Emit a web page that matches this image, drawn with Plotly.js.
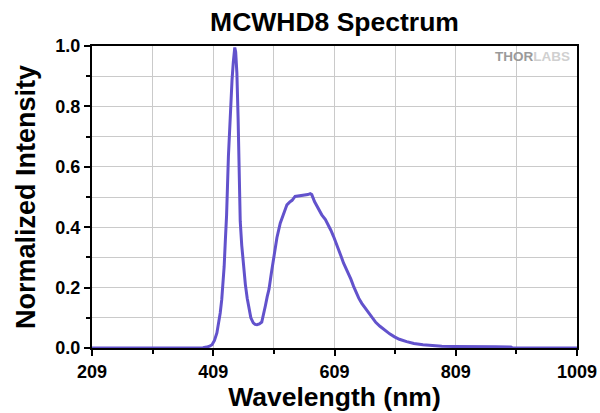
<!DOCTYPE html>
<html>
<head>
<meta charset="utf-8">
<script src="https://cdn.plot.ly/plotly-3.0.1.min.js"></script>
<style>html,body{margin:0;padding:0;background:#fff;}#chart{width:600px;height:413px;}</style>
</head>
<body>
<div id="chart"></div>
<script>
// Data
var wavelength = [209, 300, 380, 392, 398, 403, 407, 411, 415, 418, 420.5, 423, 425, 427, 429, 431, 434, 437, 440, 442, 444.5, 446, 448, 450, 451.5, 453.5, 456, 459, 462, 465, 468, 471, 475, 478, 481, 485, 489, 492, 495, 498, 501, 505, 509, 514, 519.5, 525, 530.5, 535, 539, 544, 548, 552.5, 557, 561, 565, 569, 571.5, 576, 580, 584, 588, 594, 599, 603, 607.5, 612, 616, 620, 624, 628, 632, 636, 640.5, 645, 649, 654, 660, 665, 671, 677, 684, 692, 700, 708, 716, 728, 740, 755, 770, 786, 805, 825, 850, 875, 900, 903, 950, 1009];
var intensity  = [0, 0, 0, 0.001, 0.003, 0.006, 0.011, 0.025, 0.05, 0.085, 0.116, 0.16, 0.204, 0.27, 0.358, 0.44, 0.634, 0.78, 0.888, 0.945, 0.995, 0.98, 0.91, 0.76, 0.62, 0.42, 0.34, 0.27, 0.21, 0.165, 0.128, 0.1, 0.083, 0.078, 0.077, 0.08, 0.086, 0.11, 0.14, 0.17, 0.195, 0.25, 0.3, 0.365, 0.413, 0.441, 0.474, 0.483, 0.489, 0.502, 0.503, 0.505, 0.504, 0.507, 0.508, 0.511, 0.508, 0.485, 0.469, 0.455, 0.441, 0.425, 0.408, 0.39, 0.369, 0.347, 0.325, 0.303, 0.281, 0.264, 0.248, 0.228, 0.204, 0.183, 0.165, 0.148, 0.132, 0.115, 0.099, 0.085, 0.072, 0.058, 0.047, 0.037, 0.029, 0.021, 0.015, 0.011, 0.008, 0.006, 0.005, 0.004, 0.004, 0.004, 0.003, 0, 0, 0];

var xMajorTicks = [209, 409, 609, 809, 1009];
var xMajorLabels = ['209', '409', '609', '809', '1009'];
var xMinorTicks = [309, 509, 709, 909];
var yMajorTicks = [0, 0.2, 0.4, 0.6, 0.8, 1.0];
var yMajorLabels = ['0.0', '0.2', '0.4', '0.6', '0.8', '1.0'];
var yMinorTicks = [0.1, 0.3, 0.5, 0.7, 0.9];

var FONT = 'Liberation Sans, Arial, sans-serif';
var gridCol = '#cacaca';

var trace = {
  x: wavelength,
  y: intensity,
  type: 'scatter',
  mode: 'lines',
  line: {color: '#6252CC', width: 3},
  hoverinfo: 'skip'
};

var layout = {
  width: 600,
  height: 413,
  margin: {l: 92, r: 23, t: 46, b: 65},
  paper_bgcolor: '#ffffff',
  plot_bgcolor: '#ffffff',
  showlegend: false,
  title: {
    text: '<b>MCWHD8 Spectrum</b>',
    font: {family: FONT, size: 26.5, color: '#000'},
    x: 0.5, xanchor: 'center', xref: 'paper',
    y: 1 - 22 / 413, yanchor: 'middle', yref: 'container'
  },
  xaxis: {
    range: [209, 1009],
    tickmode: 'array',
    tickvals: xMajorTicks,
    ticktext: xMajorLabels,
    ticks: 'outside', ticklen: 6, tickwidth: 2, tickcolor: '#000',
    showline: true, linecolor: '#000', linewidth: 2, mirror: true,
    showgrid: true, gridcolor: gridCol, gridwidth: 1,
    zeroline: false,
    tickfont: {family: FONT, size: 18, color: '#000', weight: 'bold'},
    minor: {tickmode: 'array', tickvals: xMinorTicks, ticks: 'outside', ticklen: 4, tickwidth: 2, tickcolor: '#000', showgrid: true, gridcolor: gridCol, gridwidth: 1},
    title: {text: '<b>Wavelength (nm)</b>', font: {family: FONT, size: 26.5, color: '#000'}, standoff: 4}
  },
  yaxis: {
    range: [0, 1],
    tickmode: 'array',
    tickvals: yMajorTicks,
    ticktext: yMajorLabels,
    ticks: 'outside', ticklen: 6, tickwidth: 2, tickcolor: '#000',
    showline: true, linecolor: '#000', linewidth: 2, mirror: true,
    showgrid: true, gridcolor: gridCol, gridwidth: 1,
    zeroline: false,
    tickfont: {family: FONT, size: 18, color: '#000', weight: 'bold'},
    minor: {tickmode: 'array', tickvals: yMinorTicks, ticks: 'outside', ticklen: 4, tickwidth: 2, tickcolor: '#000', showgrid: true, gridcolor: gridCol, gridwidth: 1},
    title: {text: '<b>Normalized Intensity</b>', font: {family: FONT, size: 27, color: '#000'}, standoff: 12}
  },
  annotations: [{
    text: '<b><span style="color:#9a9a9a">THOR</span><span style="color:#d0d0d0">LABS</span></b>',
    xref: 'paper', yref: 'paper',
    x: 0.99, y: 0.965, xanchor: 'right', yanchor: 'middle',
    showarrow: false,
    font: {family: FONT, size: 13.5, color: '#9a9a9a'}
  }]
};

Plotly.newPlot('chart', [trace], layout, {displayModeBar: false, staticPlot: true});
</script>
</body>
</html>
